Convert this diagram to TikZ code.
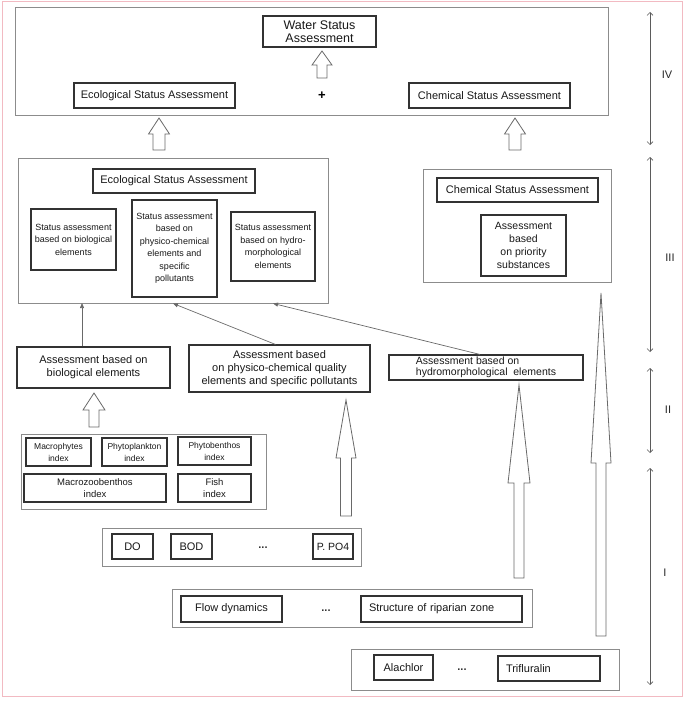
\documentclass[tikz,border=0pt]{standalone}
\usepackage{fontspec}
\setmainfont{Liberation Sans}
\usetikzlibrary{arrows.meta,calc}
\definecolor{pinkb}{RGB}{242,186,194}
\definecolor{grpc}{RGB}{140,140,140}
\definecolor{bxc}{RGB}{50,50,50}
\definecolor{arrc}{RGB}{105,105,105}
\newcommand\myfs[2]{\fontsize{#1}{#2}\selectfont}
\tikzset{
  grp/.style={draw=grpc,line width=0.9pt,inner sep=0pt},
  bx/.style={draw=bxc,line width=1.1pt,inner sep=0pt,align=center,fill=white,text=black!90},
  blk/.style={draw=arrc,line width=0.8pt,fill=white,line join=miter},
  thinarr/.style={draw=arrc,line width=0.7pt,-{Triangle[length=5pt,width=4pt]}},
  dbl/.style={draw=bxc!80,line width=0.6pt,{Straight Barb[length=3pt,width=6pt]}-{Straight Barb[length=3pt,width=6pt]}},
  lvl/.style={font=\myfs{11}{12},text=black!85},
  dots/.style={font=\myfs{11}{12}\bfseries,text=black!80},
  pics/uparr/.style n args={4}{code={
    \draw[blk] (-#3,0) -- (-#3,-#1+#2) -- (-#4,-#1+#2) -- (0,-#1) -- (#4,-#1+#2) -- (#3,-#1+#2) -- (#3,0) -- cycle;}}
}
\begin{document}
\begin{tikzpicture}[x=1pt,y=-1pt]
\useasboundingbox (0,0) rectangle (685,701);
\draw[pinkb,line width=1pt] (2,1.5) rectangle (682.5,696);

% ---------------- level IV ----------------
\node[grp,minimum width=593pt,minimum height=108pt] (gIV) at (311.5,61) {};
\node[bx,minimum width=113pt,minimum height=31pt,font=\myfs{12.5}{13.5}] (water) at (319.5,31.5) {Water Status\\Assessment};
\node[bx,minimum width=161pt,minimum height=25pt,font=\myfs{11}{12}] (ecoTop) at (154.5,95.5) {Ecological Status Assessment};
\node[bx,minimum width=161pt,minimum height=25pt,font=\myfs{11}{12}] (chemTop) at (489.5,95.5) {Chemical Status Assessment};
\node[font=\myfs{13}{14}\bfseries] (plus) at (322,96) {+};
\coordinate (wA) at (322,78);
\pic at (wA) {uparr={27}{14}{5}{10}};

% ---------------- level III ----------------
\node[grp,minimum width=310pt,minimum height=145pt] (gEco) at (173,230.5) {};
\node[bx,minimum width=162pt,minimum height=24pt,font=\myfs{11}{12}] (ecoTitle) at (174,181) {Ecological Status Assessment};
\node[bx,minimum width=85pt,minimum height=61pt,font=\myfs{9}{12.5}] (sBio) at (73.5,239.5) {Status assessment\\based on biological\\elements};
\node[bx,minimum width=85pt,minimum height=97pt,font=\myfs{9}{12.5}] (sPhys) at (174.5,248.5) {Status assessment\\based on\\physico-chemical\\elements and\\specific\\pollutants};
\node[bx,minimum width=84pt,minimum height=69pt,font=\myfs{9}{12.5}] (sHydro) at (273,246.5) {Status assessment\\based on hydro-\\morphological\\elements};

\node[grp,minimum width=188pt,minimum height=113pt] (gChem) at (517,225.5) {};
\node[bx,minimum width=161pt,minimum height=24pt,font=\myfs{11}{12}] (chemTitle) at (517.5,190) {Chemical Status Assessment};
\node[bx,minimum width=85pt,minimum height=61pt,font=\myfs{10.5}{12.8}] (prio) at (523.5,245.5) {Assessment\\based\\on priority\\substances};

\coordinate (eA) at (159,150);
\pic at (eA) {uparr={32}{16}{6}{10.5}};
\coordinate (cA) at (515,150);
\pic at (cA) {uparr={32}{16}{6}{10.5}};

% ---------------- level II ----------------
\node[bx,minimum width=153pt,minimum height=41pt,font=\myfs{11}{12.7}] (aBio) at (93.5,367.5) {Assessment based on\\biological elements};
\node[bx,minimum width=181pt,minimum height=47pt,font=\myfs{11}{12.7}] (aPhys) at (279.5,368.5) {Assessment based\\on physico-chemical quality\\elements and specific pollutants};
\node[bx,minimum width=194pt,minimum height=25pt,font=\myfs{10.5}{11},align=left] (aHydro) at (486,367.5) {Assessment based on\\hydromorphological\ \ elements};

\coordinate (e1) at (82,303);
\draw[thinarr] (aBio.north -| e1) -- (e1);
\draw[thinarr] (aPhys.north) ++(-4,0) -- (gEco.south);
\draw[thinarr] (aHydro.north) ++(-6,0) -- (gEco.south -| sHydro);

% ---------------- level I ----------------
\node[grp,minimum width=245pt,minimum height=75pt] (gIdx) at (143.5,471.5) {};
\node[bx,minimum width=65pt,minimum height=28pt,font=\myfs{8.5}{12}] (macro) at (58.5,452) {Macrophytes\\index};
\node[bx,minimum width=65pt,minimum height=28pt,font=\myfs{8.5}{12}] (phyto) at (134.5,452) {Phytoplankton\\index};
\node[bx,minimum width=73pt,minimum height=28pt,font=\myfs{8.5}{12}] (phytob) at (214.5,451) {Phytobenthos\\index};
\node[bx,minimum width=142pt,minimum height=28pt,font=\myfs{9.5}{12.5}] (macroz) at (95,488) {Macrozoobenthos\\index};
\node[bx,minimum width=73pt,minimum height=28pt,font=\myfs{9.5}{12.5}] (fish) at (214.5,488) {Fish\\index};

\coordinate (bA) at (94,427);
\pic at (bA) {uparr={34}{17}{5}{11}};

\node[grp,minimum width=259pt,minimum height=38pt] (gDO) at (231.5,547) {};
\node[bx,minimum width=41pt,minimum height=25pt,font=\myfs{11}{12}] (do) at (132.5,546.5) {DO};
\node[bx,minimum width=41pt,minimum height=25pt,font=\myfs{11}{12}] (bod) at (191.5,546.5) {BOD};
\node[dots] (d1) at (263,548) {...};
\node[bx,minimum width=40pt,minimum height=25pt,font=\myfs{10.5}{12}] (po4) at (333,546.5) {P. PO4};

\node[grp,minimum width=360pt,minimum height=38pt] (gFlow) at (352,608) {};
\node[bx,minimum width=101pt,minimum height=26pt,font=\myfs{11}{12}] (flow) at (231.5,609) {Flow dynamics};
\node[dots] (d2) at (326,611) {...};
\node[bx,minimum width=161pt,minimum height=26pt,font=\myfs{11}{12},text width=145pt,align=left,inner xsep=8pt] (ripar) at (441.5,609) {Structure of riparian zone};

\node[grp,minimum width=268pt,minimum height=41pt] (gAla) at (485,669.5) {};
\node[bx,minimum width=59pt,minimum height=25pt,font=\myfs{11}{12}] (ala) at (403.5,667.5) {Alachlor};
\node[dots] (d3) at (462,670) {...};
\node[bx,minimum width=102pt,minimum height=25pt,font=\myfs{11}{12},text width=86pt,align=left,inner xsep=8pt] (tri) at (549,668.5) {Trifluralin};

\coordinate (pA) at (346,516);
\pic at (pA) {uparr={116}{58}{5.5}{10}};
\coordinate (hA) at (519,578);
\pic at (hA) {uparr={193}{98}{5}{11}};
\coordinate (qA) at (601,636);
\pic at (qA) {uparr={343}{170}{5}{10}};

% ---------------- level markers ----------------
\coordinate (l4a) at (650,12);  \coordinate (l4b) at (650,145);
\coordinate (l3a) at (650,157); \coordinate (l3b) at (650,352);
\coordinate (l2a) at (650,368); \coordinate (l2b) at (650,453);
\coordinate (l1a) at (650,468); \coordinate (l1b) at (650,685);
\draw[dbl] (l4a) -- (l4b);
\draw[dbl] (l3a) -- (l3b);
\draw[dbl] (l2a) -- (l2b);
\draw[dbl] (l1a) -- (l1b);
\node[lvl] (tIV) at (667,75) {IV};
\node[lvl] (tIII) at (670,258) {III};
\node[lvl] (tII) at (668,410) {II};
\node[lvl] (tI) at (665,573) {I};
\end{tikzpicture}
\end{document}
